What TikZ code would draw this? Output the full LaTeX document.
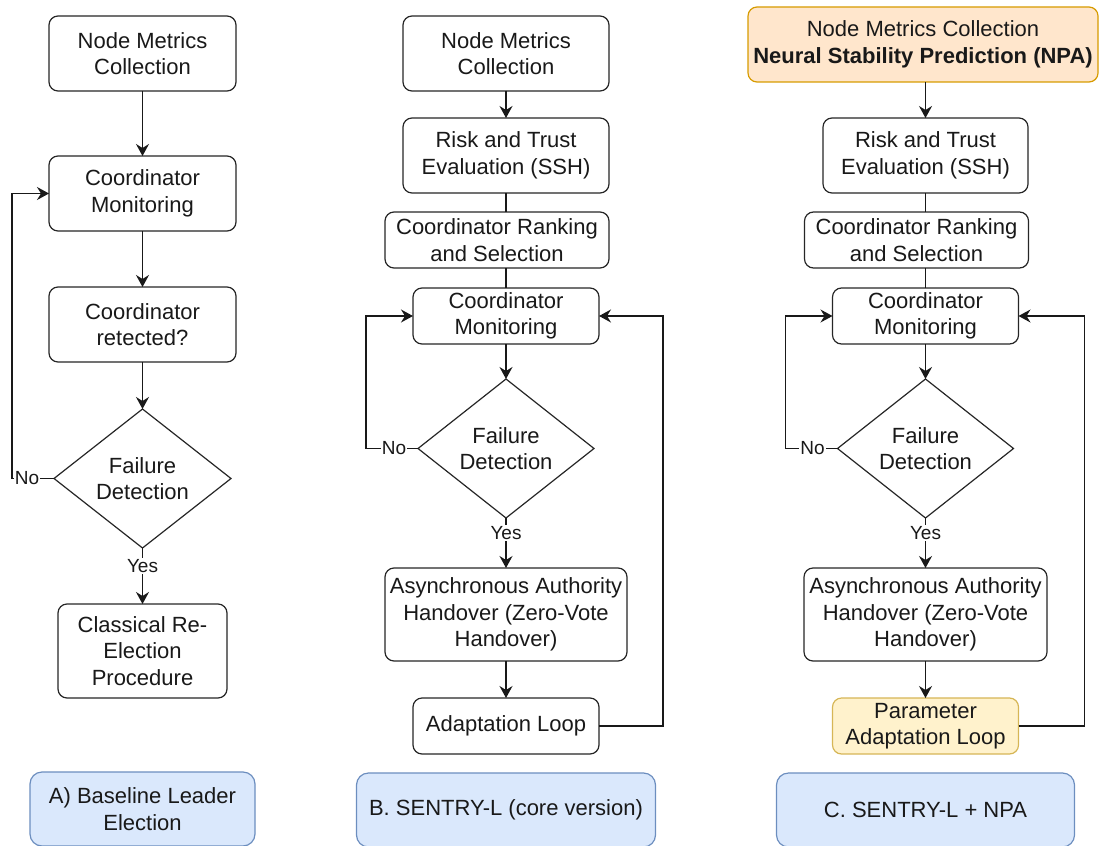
\documentclass[tikz,border=0pt]{standalone}
\usepackage{fontspec}
\setmainfont{Liberation Sans}
\usetikzlibrary{positioning,arrows.meta,shapes.geometric}

\definecolor{capfill}{HTML}{DAE8FC}
\definecolor{capdraw}{HTML}{6C8EBF}
\definecolor{npafill}{HTML}{FFE6CC}
\definecolor{npadraw}{HTML}{D79B00}
\definecolor{parfill}{HTML}{FFF2CC}
\definecolor{pardraw}{HTML}{D6B656}

\begin{document}
\begin{tikzpicture}[
  x=1pt, y=-1pt,
  font=\fontsize{22}{26.5}\selectfont, >={Stealth[length=12pt,width=13pt,inset=4pt]},
  box/.style={rounded corners=9pt, draw=black!85, line width=1.2pt, align=center, outer sep=0pt,
              inner sep=2pt, minimum height=75pt, minimum width=187pt, fill=white, text=black!90},
  npa/.style={box, draw=npadraw, fill=npafill, minimum width=350pt},
  param/.style={box, draw=pardraw, fill=parfill, minimum width=186pt, minimum height=56pt},
  decide/.style={diamond, draw=black!85, line width=1.2pt, align=center, inner sep=0pt, outer sep=0pt,
                 aspect=1.27, minimum width=177pt, minimum height=139pt, fill=white, text=black!90},
  caption/.style={rounded corners=12pt, draw=capdraw, fill=capfill, line width=1.2pt, outer sep=0pt,
                  align=center, minimum height=74pt, text=black!90},
  flow/.style={->, line width=1.3pt, draw=black!90},
  link/.style={line width=1.3pt, draw=black!90},
  yn/.style={font=\fontsize{19}{22}\selectfont, fill=white, inner sep=1pt, text=black!90},
]
\useasboundingbox (0,0) rectangle (1099,845);

% column A: baseline leader election
\node[box] (colA) at (142.5,53.5) {Node Metrics\\Collection};
\node[box, below=65pt of colA] (monA) {Coordinator\\Monitoring};
\node[box, below=56pt of monA] (detA) {Coordinator\\retected?};
\node[decide, below=47pt of detA] (failA) {Failure\\Detection};
\node[box, below=56pt of failA, minimum width=169pt, minimum height=94pt] (reA) {Classical Re-\\Election\\Procedure};
\node[caption, below=74pt of reA, minimum width=225pt] (capA) {A) Baseline Leader\\Election};

% column B: core version
\node[box, minimum width=206pt] (colB) at (506,53.5) {Node Metrics\\Collection};
\node[box, minimum width=206pt, below=27pt of colB] (riskB) {Risk and Trust\\Evaluation (SSH)};
\node[box, minimum width=224pt, minimum height=56pt, below=19pt of riskB, xshift=-9pt] (rankB) {Coordinator Ranking\\and Selection};
\node[box, minimum width=186pt, minimum height=56pt, below=20pt of rankB, xshift=9pt] (monB) {Coordinator\\Monitoring};
\node[decide, minimum width=176pt, below=35pt of monB] (failB) {Failure\\Detection};
\node[box, minimum width=242pt, minimum height=93pt, below=50pt of failB] (handB) {Asynchronous Authority\\Handover (Zero-Vote\\Handover)};
\node[box, minimum width=186pt, minimum height=56pt, below=37pt of handB] (adaptB) {Adaptation Loop};
\node[caption, minimum width=299pt, below=19pt of adaptB] (capB) {B. SENTRY-L (core version)};

% column C: with NPA
\node[npa] (colC) at (923,44.5) {Node Metrics Collection\\\textbf{Neural Stability Prediction (NPA)}};
\node[box, minimum width=205pt, below=36pt of colC, xshift=2.5pt] (riskC) {Risk and Trust\\Evaluation (SSH)};
\node[box, minimum width=224pt, minimum height=56pt, below=19pt of riskC, xshift=-9pt] (rankC) {Coordinator Ranking\\and Selection};
\node[box, minimum width=186pt, minimum height=56pt, below=20pt of rankC, xshift=9pt] (monC) {Coordinator\\Monitoring};
\node[decide, minimum width=176pt, below=35pt of monC] (failC) {Failure\\Detection};
\node[box, minimum width=243pt, minimum height=93pt, below=50pt of failC] (handC) {Asynchronous Authority\\Handover (Zero-Vote\\Handover)};
\node[param, below=37pt of handC] (paramC) {Parameter\\Adaptation Loop};
\node[caption, minimum width=298pt, below=19pt of paramC] (capC) {C. SENTRY-L + NPA};

% flow A
\draw[flow] (colA) -- (monA);
\draw[flow] (monA) -- (detA);
\draw[flow] (detA) -- (failA);
\draw[flow] (failA) -- node[yn, pos=.32]{Yes} (reA);
\draw[flow] (failA.west) -- node[yn, pos=.64]{No} ++(-42,0) |- (monA.west);

% flow B
\draw[flow] (colB) -- (riskB);
\draw[link] (riskB) -- (riskB |- rankB.north);
\draw[link] (monB |- rankB.south) -- (monB);
\draw[flow] (monB) -- (failB);
\draw[flow] (failB) -- node[yn, pos=.3]{Yes} (handB);
\draw[flow] (handB) -- (adaptB);
\draw[flow] (failB.west) -- node[yn, pos=.46]{No} ++(-52,0) |- (monB.west);
\draw[flow] (adaptB.east) -- ++(64,0) |- (monB.east);

% flow C
\draw[flow] (colC.south -| riskC) -- (riskC);
\draw[link] (riskC) -- (riskC |- rankC.north);
\draw[link] (monC |- rankC.south) -- (monC);
\draw[flow] (monC) -- (failC);
\draw[flow] (failC) -- node[yn, pos=.3]{Yes} (handC);
\draw[flow] (handC) -- (paramC);
\draw[flow] (failC.west) -- node[yn, pos=.48]{No} ++(-52,0) |- (monC.west);
\draw[flow] (paramC.east) -- ++(66,0) |- (monC.east);
\end{tikzpicture}
\end{document}
